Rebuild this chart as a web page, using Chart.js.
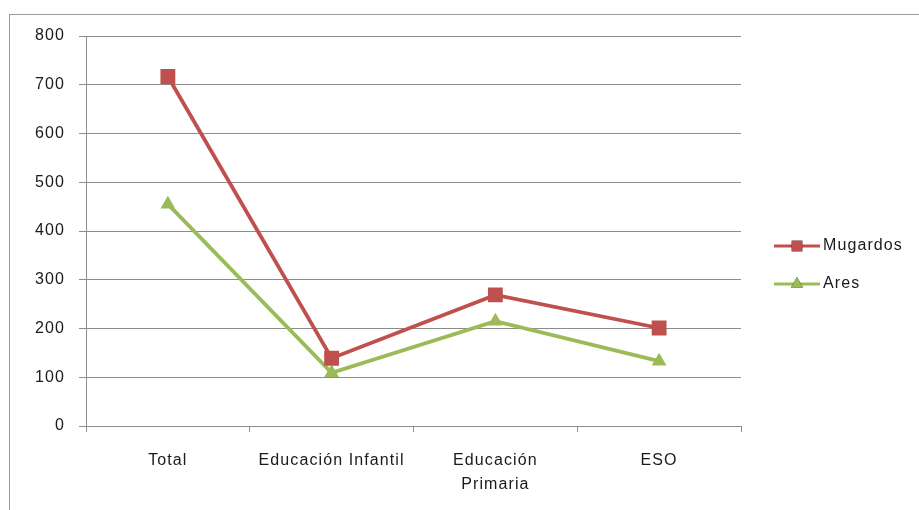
<!DOCTYPE html>
<html><head><meta charset="utf-8">
<script src="https://cdn.jsdelivr.net/npm/chart.js@4"></script>
<style>
html,body{margin:0;padding:0;background:#fff;}
#wrap{position:relative;width:919px;height:510px;overflow:hidden;}
#frame{position:absolute;left:9px;top:14px;width:1000px;height:600px;border:1px solid #9a9a9a;box-sizing:border-box;}
canvas{position:absolute;left:0;top:0;}
</style></head>
<body>
<div id="wrap"><div id="frame"></div><canvas id="c" width="919" height="510"></canvas></div>
<script>
const categories = ["Total", "Educación Infantil", ["Educación", "Primaria"], "ESO"];
const seriesNames = ["Mugardos", "Ares"];
const mugardos = [717, 139, 269, 201];
const ares = [455, 109, 215, 133];
const yTicks = [0, 100, 200, 300, 400, 500, 600, 700, 800];

const RED = '#C0504D', GREEN = '#9BBB59';
const FONT = "'Liberation Sans', 'DejaVu Sans', sans-serif";
const SPACING = '1.1px';

const spacingPlugin = {
  id: 'spacing',
  beforeDraw(chart) { chart.ctx.letterSpacing = SPACING; }
};

const legendPlugin = {
  id: 'sideLegend',
  afterDraw(chart) {
    const ctx = chart.ctx;
    const ys = [246, 284];
    chart.data.datasets.forEach((ds, i) => {
      const y = ys[i];
      ctx.save();
      ctx.strokeStyle = ds.borderColor;
      ctx.lineWidth = 3;
      ctx.beginPath(); ctx.moveTo(774, y); ctx.lineTo(820, y); ctx.stroke();
      Chart.helpers.drawPoint(ctx, {pointStyle: ds.pointStyle, radius: ds.pointStyle === 'rect' ? 7.5 : 7, rotation: 0, borderWidth: 0}, 797, y);
      ctx.fillStyle = ds.borderColor;
      ctx.fill();
      ctx.fillStyle = '#1a1a1a';
      ctx.font = '16px ' + FONT;
      ctx.letterSpacing = SPACING;
      ctx.textBaseline = 'middle';
      ctx.textAlign = 'left';
      ctx.fillText(ds.label, 823, y);
      ctx.restore();
    });
  }
};

new Chart(document.getElementById('c'), {
  type: 'line',
  data: {
    labels: categories,
    datasets: [
      {label: seriesNames[0], data: mugardos, borderColor: RED, backgroundColor: RED,
       pointBackgroundColor: RED, pointBorderColor: RED, pointStyle: 'rect', pointRadius: 10.5,
       pointBorderWidth: 0, borderWidth: 3.8, tension: 0, fill: false},
      {label: seriesNames[1], data: ares, borderColor: GREEN, backgroundColor: GREEN,
       pointBackgroundColor: GREEN, pointBorderColor: GREEN, pointStyle: 'triangle', pointRadius: 8.5,
       pointBorderWidth: 0, borderWidth: 3.8, tension: 0, fill: false}
    ]
  },
  options: {
    responsive: false,
    animation: false,
    devicePixelRatio: 1,
    layout: {padding: {left: 0, right: 178, top: 36, bottom: 0}},
    plugins: {legend: {display: false}, tooltip: {enabled: false}},
    elements: {point: {hoverRadius: 10}},
    scales: {
      x: {
        type: 'category',
        offset: true,
        afterFit: s => { s.height = 84; },
        grid: {offset: true, drawOnChartArea: false, drawTicks: true, tickLength: 6, color: '#8c8c8c'},
        border: {color: '#8c8c8c', width: 1},
        ticks: {color: '#1a1a1a', font: {family: FONT, size: 16, lineHeight: 1.5}, padding: 17, maxRotation: 0, autoSkip: false}
      },
      y: {
        min: 0, max: 800,
        afterFit: s => { s.width = 86; },
        afterBuildTicks: s => { s.ticks = yTicks.map(v => ({value: v})); },
        grid: {color: '#8c8c8c', tickLength: 7, lineWidth: 1},
        border: {color: '#8c8c8c', width: 1},
        ticks: {color: '#1a1a1a', font: {family: FONT, size: 16}, padding: 14}
      }
    }
  },
  plugins: [spacingPlugin, legendPlugin]
});
</script>
</body></html>
